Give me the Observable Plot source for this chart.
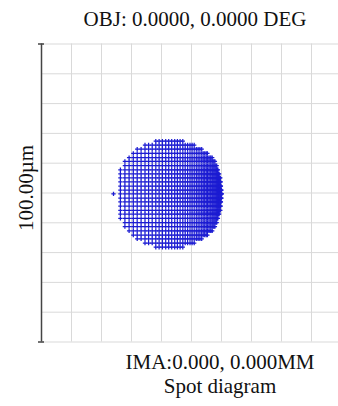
<!DOCTYPE html>
<html>
<head>
<meta charset="utf-8">
<script src="https://cdn.jsdelivr.net/npm/d3@7"></script>
<script src="https://cdn.jsdelivr.net/npm/@observablehq/plot@0.6"></script>
<style>
  html, body { margin: 0; padding: 0; background: #fff; overflow: hidden; }
  #wrap { position: relative; width: 338px; height: 406px; }
  .lbl { position: absolute; font-family: "Liberation Serif", "Times New Roman", serif; font-size: 21px; line-height: 21px; color: #111; text-align: center; white-space: nowrap; }
</style>
</head>
<body>
<div id="wrap">
  <div id="chart"></div>
  <div class="lbl" id="title" style="left:0; width:390px; top:9px;"></div>
  <div class="lbl" id="ima" style="left:20px; width:400px; top:352px;"></div>
  <div class="lbl" id="cap" style="left:20px; width:400px; top:376px;"></div>
</div>
<script>
// ---- data ----
const titleText = "OBJ: 0.0000, 0.0000 DEG";
const imageText = "IMA:0.000, 0.000MM";
const captionText = "Spot diagram";
const scaleLabel = "100.00µm";
const gridTicks = [-50, -40, -30, -20, -10, 0, 10, 20, 30, 40, 50];
// ray rows (µm)
const rowY = [17.4, 16.1, 14.7, 13.3, 11.9, 10.6, 9.2, 7.8, 6.4, 5.1, 3.7, 2.3, 1.0, -0.3,
  -1.7, -3.0, -4.4, -5.8, -7.1, -8.5, -9.9, -11.3, -12.7, -14.1, -15.4, -16.8, -18.2];
// ray columns (µm) and how many rows above/below the centre row each column holds
const columnX = [-26.0, -23.7, -22.2, -20.8, -19.4, -18.1, -16.8, -15.5, -14.3, -13.1, -11.9, -10.8,
  -9.7, -8.6, -7.6, -6.6, -5.6, -4.7, -3.8, -2.9, -2.1, -1.3, -0.5, 0.2, 0.9, 1.6, 2.2, 2.8, 3.4,
  3.9, 4.4, 4.9, 5.3, 5.8, 6.2, 6.5, 6.9, 7.2, 7.5, 7.8, 8.1, 8.4, 8.6, 8.8, 9.0, 9.2, 9.4, 9.6,
  9.7, 9.8, 10.0, 10.1];
const columnHalfRows = [0, 6, 8, 9, 10, 11, 11, 12, 12, 12, 13, 13, 13, 13, 13, 13, 13, 13, 13, 13,
  12, 12, 12, 12, 12, 11, 11, 11, 11, 10, 10, 10, 10, 9, 9, 9, 9, 8, 8, 8, 7, 7, 6, 6, 5, 5, 4, 4,
  3, 2, 1, 0];

const centreRow = 13;
const rays = columnX.flatMap((x, i) =>
  rowY.filter((y, k) => Math.abs(k - centreRow) <= columnHalfRows[i]).map(y => ({x, y})));

document.getElementById("title").textContent = titleText;
document.getElementById("ima").textContent = imageText;
document.getElementById("cap").textContent = captionText;

const plot = Plot.plot({
  width: 338,
  height: 406,
  marginLeft: 41,
  marginRight: -3,
  marginTop: 43.5,
  marginBottom: 64.5,
  x: {domain: [-50, 50], axis: null},
  y: {domain: [-50, 50], axis: null},
  style: {fontFamily: "'Liberation Serif', serif", background: "white", overflow: "hidden"},
  marks: [
    Plot.ruleX(gridTicks, {stroke: "#d9d9d9", strokeWidth: 1}),
    Plot.ruleY(gridTicks, {stroke: "#d9d9d9", strokeWidth: 1}),
    Plot.dot(rays, {x: "x", y: "y", symbol: "plus", r: 1.5, fill: "none", stroke: "#1c1cd2", strokeWidth: 1.25}),
    Plot.ruleX([-50], {stroke: "#444", strokeWidth: 1.5}),
    Plot.ruleY([-50, 50], {x1: -51, x2: -49, stroke: "#444", strokeWidth: 1.5}),
    Plot.text([scaleLabel], {frameAnchor: "left", textAnchor: "middle", rotate: -90, dx: -15, dy: -5,
      fontSize: 21, fontFamily: "'Liberation Serif', serif", fill: "#111", text: d => d})
  ]
});
document.getElementById("chart").appendChild(plot);
</script>
</body>
</html>
